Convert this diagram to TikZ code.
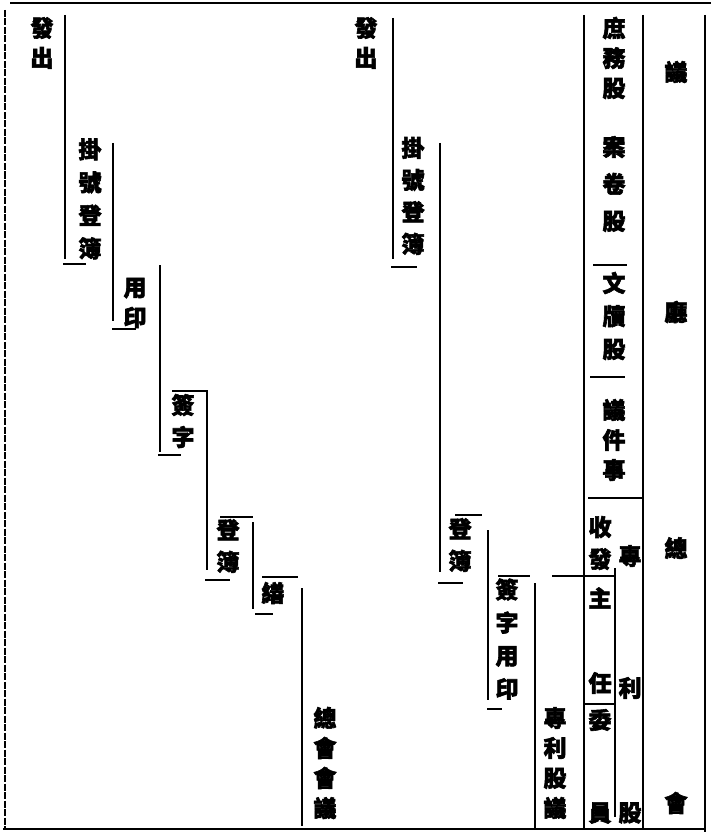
\documentclass[tikz,border=0pt]{standalone}
\usepackage{fontspec}
\newfontfamily\cjk{Noto Sans CJK TC}[BoldFeatures={FakeBold=2.5}]
\tikzset{
  lab/.style={font=\cjk\bfseries\fontsize{23}{#1}\selectfont, align=center, inner sep=0pt},
  lab/.default=31,
  rule/.style={line width=2.2pt, black},
  tick/.style={line width=1.8pt, black},
  frame/.style={line width=1.6pt, black},
}
\begin{document}
\begin{tikzpicture}[x=1pt, y=-1pt]
\useasboundingbox (0,0) rectangle (711,837);
% frame
\draw[frame] (10,3) -- (711,3);
\draw[frame, dash pattern=on 7pt off 1.5pt] (5,10) -- (5,830);
\draw[frame] (3,829) -- (706,829);

% ---------- left chain ----------
\node[lab=30] (a1) at (42,43) {發\\出};
\node[lab=33] (a2) at (90,199) {掛\\號\\登\\簿};
\node[lab=30] (a3) at (135,303) {用\\印};
\node[lab=32] (a4) at (183,421) {簽\\字};
\node[lab=32] (a5) at (228,546) {登\\簿};
\node[lab] (a6) at (273,593) {繕};
\node[lab=30] (a7) at (325,763) {總\\會\\會\\議};

\draw[rule] (65,15) -- (65,259);   \draw[tick] (63,264) -- (86,264);
\draw[rule] (113,143) -- (113,321); \draw[tick] (112,329) -- (136,329);
\draw[rule] (160,265) -- (160,452); \draw[tick] (158,455) -- (181,455);
\draw[tick] (172,391) -- (207,391);
\draw[rule] (207,390) -- (207,570); \draw[tick] (205,580) -- (230,580);
\draw[tick] (220,517) -- (253,517);
\draw[rule] (253,522) -- (253,609); \draw[tick] (255,614) -- (273,614);
\draw[tick] (262,577) -- (298,577);
\draw[rule] (302,588) -- (302,826);

% ---------- right chain ----------
\node[lab=30] (b1) at (366,43) {發\\出};
\node[lab=32] (b2) at (413,196) {掛\\號\\登\\簿};
\node[lab=32] (b3) at (460,545) {登\\簿};
\node[lab=33] (b4) at (507,639) {簽\\字\\用\\印};
\node[lab=30] (b5) at (555,763) {專\\利\\股\\議};

\draw[rule] (393,18) -- (393,259);  \draw[tick] (391,267) -- (417,267);
\draw[rule] (440,143) -- (440,572); \draw[tick] (438,583) -- (463,583);
\draw[tick] (455,515) -- (482,515);
\draw[rule] (488,530) -- (488,700); \draw[tick] (487,709) -- (502,709);
\draw[tick] (498,576) -- (530,576);
\draw[rule] (535,583) -- (535,829);
\draw[tick] (552,576) -- (615,576);

% ---------- right block ----------
\draw[rule] (584,15) -- (584,830);
\draw[rule] (643,15) -- (643,830);
\draw[rule] (705,15) -- (705,832);
\draw[rule] (615,568) -- (615,817);
\draw[tick] (584,704) -- (615,704);
\draw[tick] (593,265) -- (627,265);
\draw[tick] (590,377) -- (625,377);
\draw[tick] (588,498) -- (643,498);

\node[lab=30] (c1) at (614,58) {庶\\務\\股};
\node[lab=37] (c2) at (614,184) {案\\卷\\股};
\node[lab=33] (c3) at (614,316) {文\\牘\\股};
\node[lab=30] (c4) at (614,440) {議\\件\\事};

\node[lab=32] (d1) at (600,543) {收\\發};
\node[lab] (d2) at (600,598) {主};
\node[lab] (d3) at (600,683) {任};
\node[lab] (d4) at (600,720) {委};
\node[lab] (d5) at (600,813) {員};

\node[lab] (e1) at (630,556) {專};
\node[lab] (e2) at (630,688) {利};
\node[lab] (e3) at (630,813) {股};

\node[lab] (f1) at (676,72) {議};
\node[lab] (f2) at (676,312) {廳};
\node[lab] (f3) at (676,548) {總};
\node[lab] (f4) at (676,803) {會};
\end{tikzpicture}
\end{document}
